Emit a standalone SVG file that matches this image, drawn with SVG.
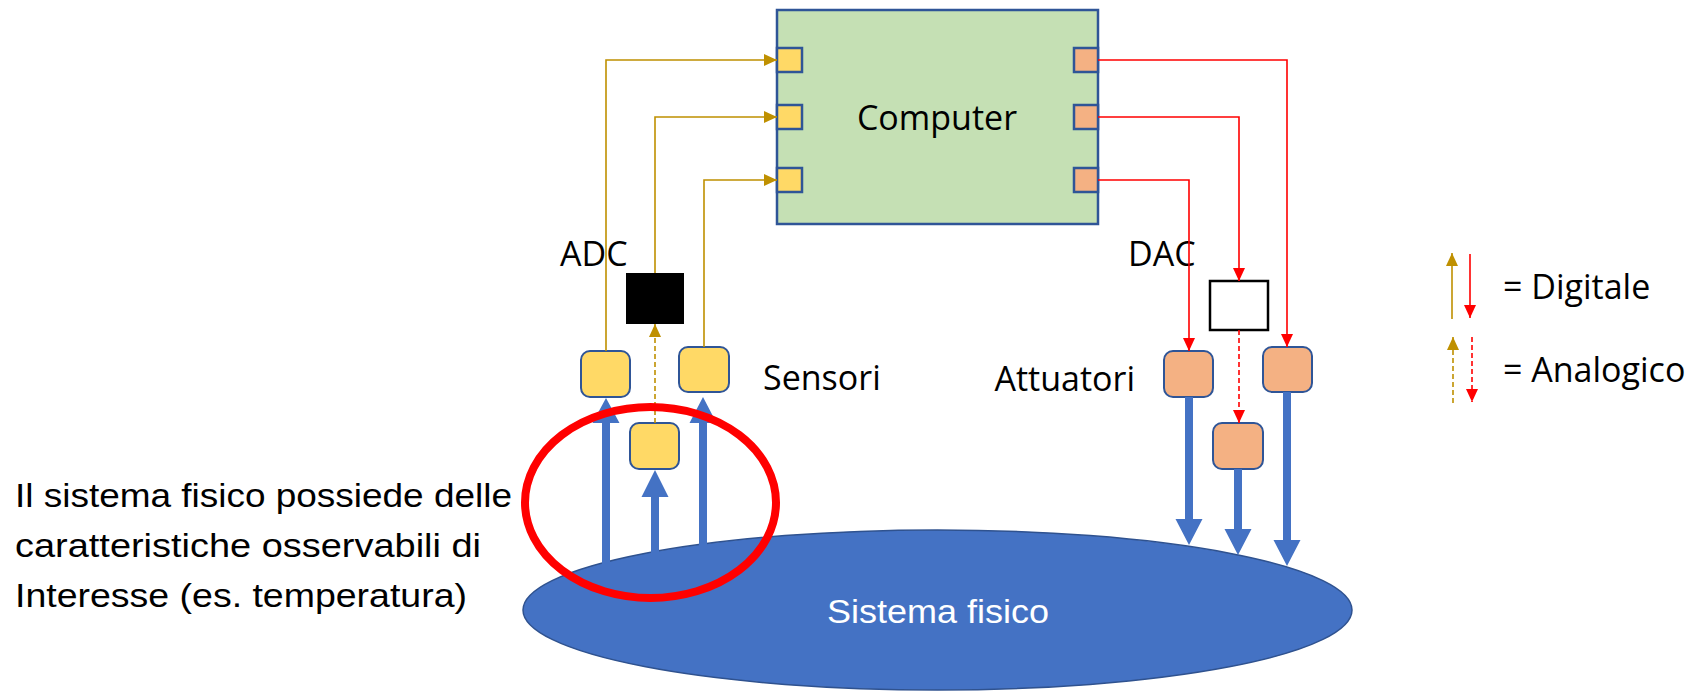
<svg xmlns="http://www.w3.org/2000/svg" width="1701" height="691" viewBox="0 0 1701 691">
<style>
  .t { font-family: "Open Sans", "Noto Sans", "DejaVu Sans", sans-serif; font-size: 34px; fill: #000; }
  .c { font-family: "Liberation Sans Narrow", "Liberation Sans", Arial, sans-serif; font-size: 34px; fill: #000; }
  .sens { fill: #FFD966; stroke: #2F5597; stroke-width: 2; }
  .act { fill: #F4B183; stroke: #2F5597; stroke-width: 2; }
  .port-in { fill: #FFD966; stroke: #2F5597; stroke-width: 2.5; }
  .port-out { fill: #F4B183; stroke: #2F5597; stroke-width: 2.5; }
  .gold { fill: none; stroke: #BF9000; stroke-width: 1.6; }
  .red { fill: none; stroke: #FF0000; stroke-width: 1.6; }
  .dash { stroke-dasharray: 5 3; }
  .blue { fill: #4472C4; }
</style>
<defs>
  <marker id="ag" markerUnits="userSpaceOnUse" markerWidth="13" markerHeight="12" viewBox="0 0 13 12" refX="13" refY="6" orient="auto">
    <path d="M0,0 L13,6 L0,12 z" fill="#BF9000"/>
  </marker>
  <marker id="ar" markerUnits="userSpaceOnUse" markerWidth="13" markerHeight="12" viewBox="0 0 13 12" refX="13" refY="6" orient="auto">
    <path d="M0,0 L13,6 L0,12 z" fill="#FF0000"/>
  </marker>
</defs>

<!-- Physical system -->
<g id="sistema-fisico">
  <ellipse cx="937.5" cy="610" rx="414.5" ry="80" fill="#4472C4" stroke="#2F528F" stroke-width="1.5"/>
  <text class="c" x="938" y="623" text-anchor="middle" fill="#fff" style="fill:#fff" textLength="222" lengthAdjust="spacingAndGlyphs">Sistema fisico</text>
</g>

<!-- Computer -->
<g id="computer">
  <rect x="777" y="10" width="321" height="214" fill="#C5E0B4" stroke="#2F5597" stroke-width="2.5"/>
  <text class="t" x="937" y="130" text-anchor="middle">Computer</text>
  <rect class="port-in" x="777" y="48" width="25" height="24"/>
  <rect class="port-in" x="777" y="105" width="25" height="24"/>
  <rect class="port-in" x="777" y="168" width="25" height="24"/>
  <rect class="port-out" x="1074" y="48" width="24" height="24"/>
  <rect class="port-out" x="1074" y="105" width="24" height="24"/>
  <rect class="port-out" x="1074" y="168" width="24" height="24"/>
</g>

<!-- ADC / DAC -->
<g id="adc">
  <rect x="626" y="273" width="58" height="51" fill="#000"/>
  <text class="t" x="560" y="266">ADC</text>
</g>
<g id="dac">
  <rect x="1210" y="281" width="58" height="49" fill="#fff" stroke="#000" stroke-width="2.5"/>
  <text class="t" x="1128" y="266">DAC</text>
</g>

<!-- Sensors -->
<g id="sensore-1"><rect class="sens" x="581" y="351" width="49" height="46" rx="9"/></g>
<g id="sensore-2"><rect class="sens" x="630" y="423" width="49" height="46" rx="9"/></g>
<g id="sensore-3"><rect class="sens" x="679" y="347" width="50" height="45" rx="9"/></g>
<g id="label-sensori"><text class="t" x="763" y="390">Sensori</text></g>

<!-- Actuators -->
<g id="attuatore-1"><rect class="act" x="1164" y="351" width="49" height="46" rx="9"/></g>
<g id="attuatore-2"><rect class="act" x="1213" y="423" width="50" height="46" rx="9"/></g>
<g id="attuatore-3"><rect class="act" x="1263" y="347" width="49" height="45" rx="9"/></g>
<g id="label-attuatori"><text class="t" x="1135" y="391" text-anchor="end">Attuatori</text></g>

<!-- Connectors -->
<g id="connectors">
  <!-- sensors to computer (digital) -->
  <polyline class="gold" points="606,351 606,60 777,60" marker-end="url(#ag)"/>
  <polyline class="gold" points="655,273 655,117 777,117" marker-end="url(#ag)"/>
  <polyline class="gold" points="704,347 704,180 777,180" marker-end="url(#ag)"/>
  <!-- analog sensor to ADC -->
  <line class="gold dash" x1="655" y1="423" x2="655" y2="324" marker-end="url(#ag)"/>
  <!-- computer to actuators -->
  <polyline class="red" points="1098,60 1287,60 1287,347" marker-end="url(#ar)"/>
  <polyline class="red" points="1098,117 1239,117 1239,281" marker-end="url(#ar)"/>
  <polyline class="red" points="1098,180 1189,180 1189,351" marker-end="url(#ar)"/>
  <!-- DAC to analog actuator -->
  <line class="red dash" x1="1239" y1="330" x2="1239" y2="423" marker-end="url(#ar)"/>

  <!-- physical quantities: system to sensors -->
  <path class="blue" d="M602,570 L602,423 L592.5,423 L606,398 L619.5,423 L610,423 L610,570 z"/>
  <path class="blue" d="M651,560 L651,497 L641.5,497 L655,470 L668.5,497 L659,497 L659,560 z"/>
  <path class="blue" d="M699,552 L699,423 L689.5,423 L703,397 L716.5,423 L707,423 L707,552 z"/>
  <!-- actuators to system -->
  <path class="blue" d="M1185,397 L1185,519 L1175.5,519 L1189,545 L1202.5,519 L1193,519 L1193,397 z"/>
  <path class="blue" d="M1234,469 L1234,529 L1224.5,529 L1238,555 L1251.5,529 L1242,529 L1242,469 z"/>
  <path class="blue" d="M1283,392 L1283,540 L1273.5,540 L1287,566 L1300.5,540 L1291,540 L1291,392 z"/>
</g>

<!-- Highlight circle -->
<g id="highlight">
  <ellipse cx="650.5" cy="502.5" rx="125.5" ry="95.5" fill="none" stroke="#FF0000" stroke-width="8"/>
</g>

<!-- Description text -->
<g id="descrizione">
  <text class="c" x="15" y="507" textLength="497" lengthAdjust="spacingAndGlyphs">Il sistema fisico possiede delle</text>
  <text class="c" x="15" y="557" textLength="466" lengthAdjust="spacingAndGlyphs">caratteristiche osservabili di</text>
  <text class="c" x="15" y="607" textLength="452" lengthAdjust="spacingAndGlyphs">Interesse (es. temperatura)</text>
</g>

<!-- Legend -->
<g id="legenda">
  <line class="gold" x1="1452" y1="319" x2="1452" y2="253" marker-end="url(#ag)"/>
  <line class="red" x1="1470" y1="254" x2="1470" y2="318" marker-end="url(#ar)"/>
  <text class="t" x="1503" y="299">= Digitale</text>
  <line class="gold dash" x1="1453" y1="403" x2="1453" y2="337" marker-end="url(#ag)"/>
  <line class="red dash" x1="1472" y1="337" x2="1472" y2="402" marker-end="url(#ar)"/>
  <text class="t" x="1503" y="382">= Analogico</text>
</g>
</svg>
